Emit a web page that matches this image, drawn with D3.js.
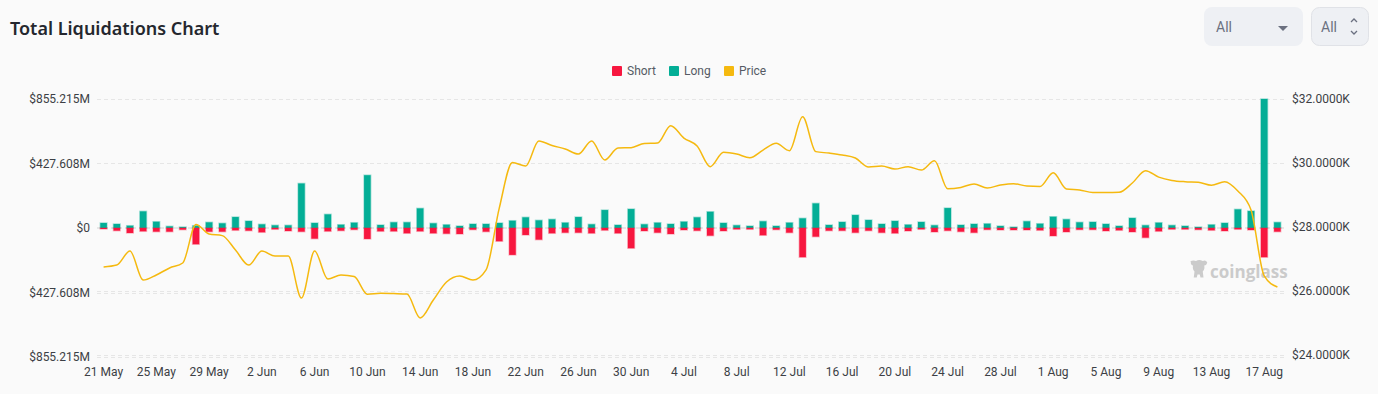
<!DOCTYPE html>
<html>
<head>
<meta charset="utf-8">
<script src="https://cdn.jsdelivr.net/npm/d3@7/dist/d3.min.js"></script>
<style>
  html, body { margin: 0; padding: 0; background: #fafafa; }
  svg { display: block; font-family: Roboto, "Noto Sans", sans-serif; }
</style>
</head>
<body>
<svg id="chart" width="1378" height="394"></svg>
<script>
// daily data, 21 May -> 18 Aug
var startDate = new Date(2023, 4, 21);
var numDays = 90;

// long liquidations (M USD)
var longs = [33, 26.4, 15.2, 110.3, 41.6, 11.2, 6.6, 15.2, 37.6, 31,
  72.6, 46.2, 24.4, 17.8, 17.8, 295.2, 33, 90.5, 21.8, 35,
  350, 19.8, 37.6, 37.6, 130.1, 31, 21.8, 13.2, 26.4, 26.4,
  33, 48.2, 70.7, 50.9, 57.5, 35, 72.6, 24.4, 118.9, 19.8,
  125.5, 24.4, 35, 26.4, 41.6, 70.7, 107.6, 33, 17.8, 13.2,
  44.2, 13.2, 35, 64.1, 163.1, 19.8, 39.6, 85.9, 52.8, 26.4,
  46.2, 21.8, 39.6, 17.8, 132.1, 19.8, 26.4, 28.4, 13.2, 6.6,
  44.2, 28.4, 74.6, 57.5, 37.6, 39.6, 26.4, 13.2, 66, 17.8,
  35, 17.8, 13.2, 6.6, 21.8, 33, 123.5, 112.3, 855.215, 37.6];

// short liquidations (M USD)
var shorts = [6.6, 17.8, 33, 21.8, 24.4, 24.4, 11.2, 107.6, 24.4, 24.4,
  15.2, 17.8, 28.4, 8.6, 19.8, 24.4, 70.7, 21.8, 17.8, 11.2,
  72.6, 21.8, 21.8, 35, 21.8, 35, 37.6, 39.6, 11.2, 24.4,
  87.8, 178.3, 46.2, 77.3, 35, 31, 31, 35, 15.2, 35,
  134.1, 19.8, 31, 39.6, 13.2, 17.8, 50.9, 19.8, 8.6, 8.6,
  48.2, 11.2, 31, 193.5, 57.5, 17.8, 17.8, 31, 17.8, 31,
  35, 19.8, 8.6, 26.4, 17.8, 24.4, 31, 11.2, 13.2, 13.2,
  13.2, 15.2, 52.8, 26.4, 11.2, 11.2, 19.8, 15.2, 26.4, 64.1,
  21.8, 8.6, 8.6, 11.2, 15.2, 19.8, 8.6, 13.2, 193.5, 24.4];

// BTC price (USD)
var prices = [26750, 26810, 27250, 26340, 26500, 26720, 26875, 28080, 27780, 27730,
  27280, 26810, 27250, 27090, 27090, 25780, 27250, 26375, 26500, 26450,
  25900, 25930, 25920, 25905, 25160, 25720, 26280, 26470, 26340, 26660,
  28590, 30015, 29905, 30690, 30545, 30440, 30280, 30690, 30095, 30470,
  30480, 30610, 30625, 31165, 30780, 30530, 29885, 30335, 30280, 30165,
  30405, 30615, 30385, 31445, 30355, 30310, 30250, 30155, 29875, 29905,
  29810, 29885, 29780, 30070, 29195, 29235, 29345, 29220, 29310, 29355,
  29280, 29265, 29695, 29190, 29155, 29080, 29075, 29085, 29375, 29760,
  29560, 29455, 29415, 29400, 29305, 29415, 29125, 28530, 26470, 26125];

var leftTicks = [855.215, 427.608, 0, -427.608, -855.215];
var rightTicks = [32000, 30000, 28000, 26000, 24000];

var legendItems = [
  { name: 'Short', color: '#f7173f' },
  { name: 'Long', color: '#03ae96' },
  { name: 'Price', color: '#f5b90f' }
];

var RED = '#f7173f';
var GREEN = '#03ae96';
var GOLD = '#f5b90f';

var svg = d3.select('#chart');
var monthNames = ['Jan', 'Feb', 'Mar', 'Apr', 'May', 'Jun', 'Jul', 'Aug', 'Sep', 'Oct', 'Nov', 'Dec'];

function dayLabel(i) {
  var d = d3.timeDay.offset(startDate, i);
  return d.getDate() + ' ' + monthNames[d.getMonth()];
}

var days = d3.range(numDays);

var x = d3.scaleBand().domain(days).range([97, 1284]).paddingInner(0.5).paddingOuter(0.25);
var yLeft = d3.scaleLinear().domain([-855.215, 855.215]).range([357, 99]);
var yRight = d3.scaleLinear().domain([24000, 32000]).range([355, 99]);

function drawHeader() {
  svg.append('text')
    .attr('x', 10).attr('y', 35)
    .attr('font-size', 18).attr('font-weight', 600)
    .attr('fill', '#24272e')
    .style('font-family', '"Noto Sans", sans-serif')
    .text('Total Liquidations Chart');

  // range selects
  var g = svg.append('g');
  g.append('rect').attr('x', 1204).attr('y', 7).attr('width', 99).attr('height', 39)
    .attr('rx', 8).attr('fill', '#eef0f4');
  g.append('text').attr('x', 1216).attr('y', 32).attr('font-size', 14).attr('fill', '#6b7080').text('All');
  g.append('path').attr('d', 'M1278,26 L1288,26 L1283,31 Z').attr('fill', '#6b7080');

  g.append('rect').attr('x', 1311.5).attr('y', 7.5).attr('width', 57).attr('height', 38)
    .attr('rx', 8).attr('fill', '#eef0f4').attr('stroke', '#e0e2e7');
  g.append('text').attr('x', 1321).attr('y', 32).attr('font-size', 14).attr('fill', '#6b7080').text('All');
  g.append('path').attr('d', 'M1351,22 L1354,19 L1357,22 M1351,31 L1354,34 L1357,31')
    .attr('fill', 'none').attr('stroke', '#6b7080').attr('stroke-width', 1.3);
}

function drawLegend() {
  var offsets = [612, 669, 724];
  var g = svg.append('g');
  legendItems.forEach(function(item, i) {
    g.append('rect').attr('x', offsets[i]).attr('y', 66).attr('width', 10).attr('height', 10)
      .attr('rx', 1).attr('fill', item.color);
    g.append('text').attr('x', offsets[i] + 15).attr('y', 75)
      .attr('font-size', 12).attr('fill', '#555a64').text(item.name);
  });
}

function drawGrid() {
  var g = svg.append('g').attr('stroke', '#e6e6e6').attr('stroke-dasharray', '4,3');
  leftTicks.forEach(function(t) {
    var yy = Math.round(yLeft(t)) + 0.5;
    g.append('line').attr('x1', 97).attr('x2', 1284).attr('y1', yy).attr('y2', yy);
  });
  rightTicks.forEach(function(t) {
    var yy = Math.round(yRight(t)) + 0.5;
    g.append('line').attr('x1', 97).attr('x2', 1284).attr('y1', yy).attr('y2', yy);
  });
}

function drawAxes() {
  var fmtLeft = function(v) { return v === 0 ? '$0' : '$' + Math.abs(v).toFixed(3) + 'M'; };
  var fmtRight = function(v) { return '$' + (v / 1000).toFixed(4) + 'K'; };

  var left = svg.append('g').attr('transform', 'translate(90,0)')
    .call(d3.axisLeft(yLeft).tickValues(leftTicks).tickFormat(fmtLeft).tickSize(0).tickPadding(0));
  var right = svg.append('g').attr('transform', 'translate(1292,0)')
    .call(d3.axisRight(yRight).tickValues(rightTicks).tickFormat(fmtRight).tickSize(0).tickPadding(0));

  var labelDays = days.filter(function(d) { return d % 4 === 0; });
  var bottom = svg.append('g').attr('transform', 'translate(0,365)')
    .call(d3.axisBottom(x).tickValues(labelDays).tickFormat(dayLabel).tickSize(0).tickPadding(2));

  [left, right, bottom].forEach(function(a) {
    a.select('.domain').remove();
    a.selectAll('text').attr('font-size', 12).attr('fill', '#3c3f45')
      .style('font-family', 'Roboto, sans-serif');
  });
}

function drawBars() {
  var w = x.bandwidth();
  var g = svg.append('g');
  // longs above zero
  g.selectAll('rect.long').data(days).enter().append('rect')
    .attr('class', 'long')
    .attr('x', function(d) { return x(d); })
    .attr('width', w)
    .attr('y', function(d) { return yLeft(longs[d]); })
    .attr('height', function(d) { return yLeft(0) - yLeft(longs[d]); })
    .attr('fill', GREEN)
    .attr('stroke', 'rgba(3,174,150,0.35)').attr('stroke-width', 1.5);
  // shorts below zero
  g.selectAll('rect.short').data(days).enter().append('rect')
    .attr('class', 'short')
    .attr('x', function(d) { return x(d); })
    .attr('width', w)
    .attr('y', yLeft(0))
    .attr('height', function(d) { return yLeft(-shorts[d]) - yLeft(0); })
    .attr('fill', RED)
    .attr('stroke', 'rgba(247,23,63,0.3)').attr('stroke-width', 1.5);
}

function drawPrice() {
  var line = d3.line()
    .x(function(d) { return x(d) + x.bandwidth() / 2; })
    .y(function(d) { return yRight(prices[d]); })
    .curve(d3.curveMonotoneX);
  svg.append('path').datum(days)
    .attr('d', line)
    .attr('fill', 'none')
    .attr('stroke', GOLD)
    .attr('stroke-width', 1.5);
}

function drawWatermark() {
  var g = svg.append('g').attr('fill', '#cbcbcb');
  // rough bull head logo
  g.append('path')
    .attr('transform', 'translate(1190,261) scale(0.75)')
    .attr('d', 'M0,1 q4,-3 8,-1 q4,-3 9,0 q4,-2 6,2 q-1,4 -4,4 q1,5 -2,8 l1,8 h-4 l-1,-4 h-3 l-1,4 h-4 l1,-8 q-3,-3 -2,-8 q-3,0 -3,-5 z');
  g.append('text').attr('x', 1210).attr('y', 278)
    .attr('font-size', 17).attr('font-weight', 700)
    .style('font-family', '"Open Sans", sans-serif')
    .text('coinglass');
}

function main() {
  drawHeader();
  drawLegend();
  drawGrid();
  drawAxes();
  drawWatermark();
  drawBars();
  drawPrice();
}

main();
</script>
</body>
</html>
